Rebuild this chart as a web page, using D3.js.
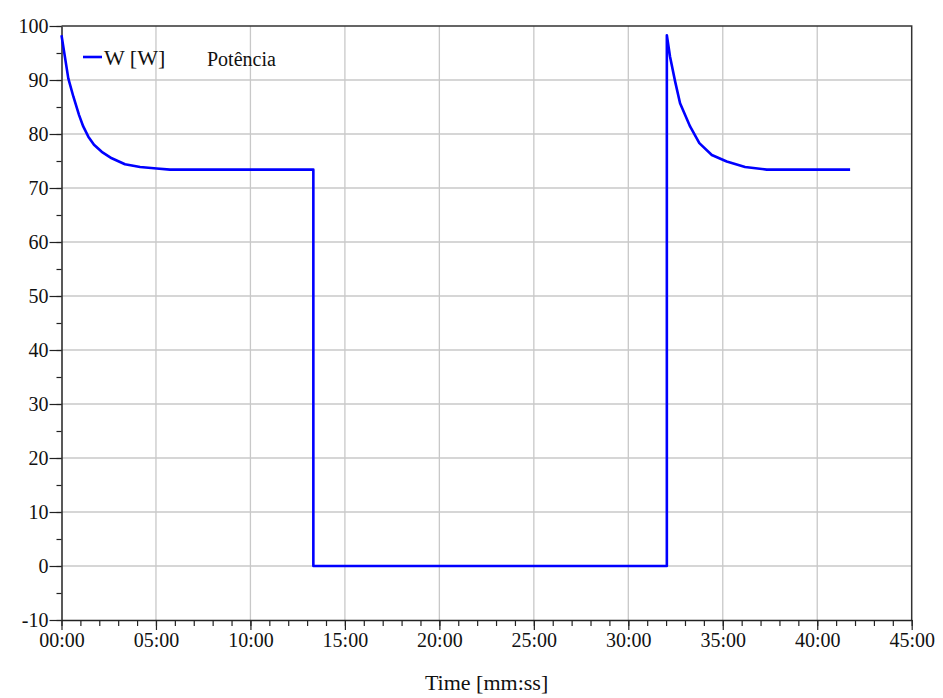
<html>
<head>
<meta charset="utf-8">
<title>Potência</title>
<script src="https://cdn.jsdelivr.net/npm/d3@7/dist/d3.min.js"></script>
</head>
<body style="margin:0;background:#fff">
<svg id="plot" width="943" height="698"></svg>
<script>
// time in minutes, power in W
const timeMin = [0, 0.36, 0.63, 0.93, 1.15, 1.42, 1.72, 2.13, 2.66, 3.36, 4.16, 5.04, 5.74, 13.33,
  13.33, 32.04,
  32.04, 32.21, 32.48, 32.74, 33.27, 33.76, 34.42, 35.21, 36.18, 37.33, 41.74]
const powerW = [98.3, 90.3, 86.9, 83.5, 81.4, 79.5, 78.0, 76.7, 75.5, 74.4, 73.9, 73.6, 73.4, 73.4,
  0, 0,
  98.3, 94.3, 89.7, 85.7, 81.4, 78.3, 76.1, 74.9, 73.9, 73.4, 73.4]
const xTicks = [0, 5, 10, 15, 20, 25, 30, 35, 40, 45]
const yTicks = [-10, 0, 10, 20, 30, 40, 50, 60, 70, 80, 90, 100]
const seriesName = 'W [W]'
const seriesDesc = 'Potência'
const xTitle = 'Time [mm:ss]'

const width = 943, height = 698
const margin = { left: 61.5, right: 31.3, top: 26, bottom: 78 }

const svg = d3.select('#plot')

const serif = sel => sel
  .style('font-family', "'Liberation Serif'")
  .attr('font-family', "'Liberation Serif'")
  .style('fill', '#111')

const x = d3.scaleLinear().domain([0, 45]).range([margin.left, width - margin.right])
const y = d3.scaleLinear().domain([-10, 100]).range([height - margin.bottom, margin.top])

const fmt = d => String(Math.floor(d)).padStart(2, '0') + ':00'

// grid
svg.append('g').selectAll('line')
  .data(xTicks.slice(1, -1))
  .join('line')
  .attr('x1', d => x(d)).attr('x2', d => x(d))
  .attr('y1', y(100)).attr('y2', y(-10))
  .attr('stroke', '#c8c8c8').attr('stroke-width', 1.3)

svg.append('g').selectAll('line')
  .data(yTicks.slice(1, -1))
  .join('line')
  .attr('x1', x(0)).attr('x2', x(45))
  .attr('y1', d => y(d)).attr('y2', d => y(d))
  .attr('stroke', '#c8c8c8').attr('stroke-width', 1.3)

// frame top / right
svg.append('path')
  .attr('d', `M${x(0)},${y(100)}H${x(45)}V${y(-10)}`)
  .attr('fill', 'none')
  .attr('stroke', '#333').attr('stroke-width', 1.5)

// x axis, minor then major
const xMinor = svg.append('g')
  .attr('transform', `translate(0,${y(-10)})`)
  .call(d3.axisBottom(x).tickValues(d3.range(0, 46, 1)).tickSize(6).tickFormat(''))
xMinor.select('.domain').remove()
xMinor.selectAll('line').attr('stroke', '#222').attr('stroke-width', 1.2)

const xAxis = svg.append('g')
  .attr('transform', `translate(0,${y(-10)})`)
  .call(d3.axisBottom(x).tickValues(xTicks).tickSize(10).tickSizeOuter(0).tickPadding(3).tickFormat(fmt))
xAxis.select('.domain').attr('stroke', '#222').attr('stroke-width', 1.5)
xAxis.selectAll('line').attr('stroke', '#222').attr('stroke-width', 1.2)
xAxis.selectAll('text').call(serif).style('font-size', '20px')

// y axis
const yMinor = svg.append('g')
  .attr('transform', `translate(${x(0)},0)`)
  .call(d3.axisLeft(y).tickValues(d3.range(-10, 101, 5)).tickSize(5).tickFormat(''))
yMinor.select('.domain').remove()
yMinor.selectAll('line').attr('stroke', '#222').attr('stroke-width', 1.2)

const yAxis = svg.append('g')
  .attr('transform', `translate(${x(0)},0)`)
  .call(d3.axisLeft(y).tickValues(yTicks).tickSize(12).tickSizeOuter(0).tickPadding(1).tickFormat(d => `${d}`))
yAxis.select('.domain').attr('stroke', '#222').attr('stroke-width', 1.5)
yAxis.selectAll('line').attr('stroke', '#222').attr('stroke-width', 1.2)
yAxis.selectAll('text').call(serif).style('font-size', '20px')

// series
const pts = timeMin.map((t, i) => [t, powerW[i]])
svg.append('path')
  .datum(pts)
  .attr('fill', 'none')
  .attr('stroke', '#0000ff')
  .attr('stroke-width', 2.6)
  .attr('stroke-linejoin', 'round')
  .attr('d', d3.line().x(d => x(d[0])).y(d => y(d[1])))

// legend
svg.append('line')
  .attr('x1', 83).attr('x2', 102).attr('y1', 57).attr('y2', 57)
  .attr('stroke', '#0000ff').attr('stroke-width', 2.6)
svg.append('text').attr('x', 104).attr('y', 65)
  .call(serif).style('font-size', '22px').text(seriesName)
svg.append('text').attr('x', 207).attr('y', 66)
  .call(serif).style('font-size', '20px').text(seriesDesc)

// x title
svg.append('text')
  .attr('x', (x(0) + x(45)) / 2)
  .attr('y', 690)
  .attr('text-anchor', 'middle')
  .call(serif).style('font-size', '22px')
  .text(xTitle)
</script>
</body>
</html>
